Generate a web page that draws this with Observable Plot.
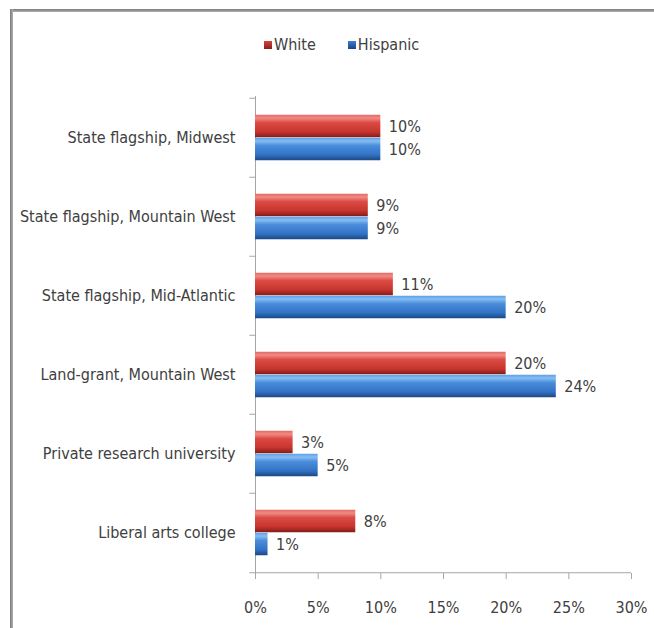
<!DOCTYPE html>
<html>
<head>
<meta charset="utf-8">
<script src="https://cdn.jsdelivr.net/npm/d3@7"></script>
<script src="https://cdn.jsdelivr.net/npm/@observablehq/plot@0.6"></script>
<style>
  html, body { margin: 0; padding: 0; background: #fff; overflow: hidden; }
  #wrap { position: relative; width: 654px; height: 628px; overflow: hidden; font-family: "DejaVu Sans Condensed", sans-serif; }
  #ftop { position: absolute; left: 10px; top: 9px; width: 644px; height: 3px; background: linear-gradient(#7a7a7a, #b0b0b0); }
  #fleft { position: absolute; left: 10px; top: 9px; width: 3px; height: 619px; background: linear-gradient(90deg, #7a7a7a, #b0b0b0); }
  #chart { position: absolute; left: 0; top: 0; }
  #legend { position: absolute; top: 35px; left: 264px; font-size: 16px; color: #404040; display: flex; gap: 32px; align-items: center; }
  #legend span.sw { display: inline-block; width: 8px; height: 8px; margin-right: 2px; vertical-align: 1px; }
  svg [aria-label="x-axis tick"] path, svg [aria-label="x-axis"] .tick line { stroke: #a6a6a6; }
  svg [aria-label="x-axis"] .domain, svg [aria-label="y-axis"] .domain { display: none; }
</style>
</head>
<body>
<div id="wrap">
  <div id="ftop"></div>
  <div id="fleft"></div>
  <div id="chart"></div>
  <div id="legend"></div>
</div>
<script>
const categories = [
  "State flagship, Midwest",
  "State flagship, Mountain West",
  "State flagship, Mid-Atlantic",
  "Land-grant, Mountain West",
  "Private research university",
  "Liberal arts college"
];
const white = [10, 9, 11, 20, 3, 8];
const hispanic = [10, 9, 20, 24, 5, 1];
const xTicks = [0, 5, 10, 15, 20, 25, 30];
const seriesNames = ["White", "Hispanic"];
const seriesColors = ["#d4433d", "#3a7fd2"];

const rows = categories.map((c, i) => ({category: c, white: white[i], hispanic: hispanic[i]}));
const fmt = d => d + "%";
const grey = "#a6a6a6";
const bandHalf = 39.75;

const chart = Plot.plot({
  width: 654,
  height: 628,
  marginLeft: 255,
  marginRight: 23,
  marginTop: 96,
  marginBottom: 55,
  style: {fontFamily: '"DejaVu Sans Condensed", sans-serif', fontSize: "16px", color: "#404040", background: "transparent", overflow: "visible"},
  x: {domain: [0, 30], ticks: xTicks, tickFormat: fmt, tickSize: 6, tickPadding: 22, label: null},
  y: {domain: categories, padding: 0, tickSize: 0, tickPadding: 20, label: null},
  marks: [
    Plot.ruleX([0], {stroke: grey}),
    Plot.ruleY([categories[categories.length - 1]], {stroke: grey, dy: bandHalf}),
    Plot.ruleY(categories, {x1: -0.45, x2: 0, stroke: grey, dy: -bandHalf}),
    Plot.ruleY([categories[categories.length - 1]], {x1: -0.45, x2: 0, stroke: grey, dy: bandHalf}),
    Plot.barX(rows, {y: "category", x: "white", fill: "url(#gradRed)", insetTop: 16.75, insetBottom: 39.75}),
    Plot.barX(rows, {y: "category", x: "hispanic", fill: "url(#gradBlue)", insetTop: 39.75, insetBottom: 16.75}),
    Plot.text(rows, {y: "category", x: "white", text: d => fmt(d.white), dx: 8, dy: -11.5, textAnchor: "start", fill: "#404040", fontSize: 16}),
    Plot.text(rows, {y: "category", x: "hispanic", text: d => fmt(d.hispanic), dx: 8, dy: 11.5, textAnchor: "start", fill: "#404040", fontSize: 16})
  ]
});

// gradients for the glossy bars
const svg = d3.select(chart);
const defs = svg.insert("defs", ":first-child");
function grad(id, stops) {
  const g = defs.append("linearGradient").attr("id", id).attr("x1", 0).attr("y1", 0).attr("x2", 0).attr("y2", 1);
  stops.forEach(([o, c]) => g.append("stop").attr("offset", o).attr("stop-color", c));
}
grad("gradRed", [[0, "#e36a64"], [0.15, "#f08a84"], [0.35, "#dc4a44"], [0.75, "#c8352f"], [1, "#821c19"]]);
grad("gradBlue", [[0, "#5f9fe6"], [0.15, "#86bdf3"], [0.35, "#4a8ddb"], [0.75, "#3373c6"], [1, "#1c4784"]]);

document.getElementById("chart").appendChild(chart);

const legend = d3.select("#legend");
seriesNames.forEach((name, i) => {
  const item = legend.append("div");
  item.append("span").attr("class", "sw")
    .style("background", `linear-gradient(${seriesColors[i]}, ${i === 0 ? "#8b1f1c" : "#1b4580"})`);
  item.append("span").text(name);
});
</script>
</body>
</html>
